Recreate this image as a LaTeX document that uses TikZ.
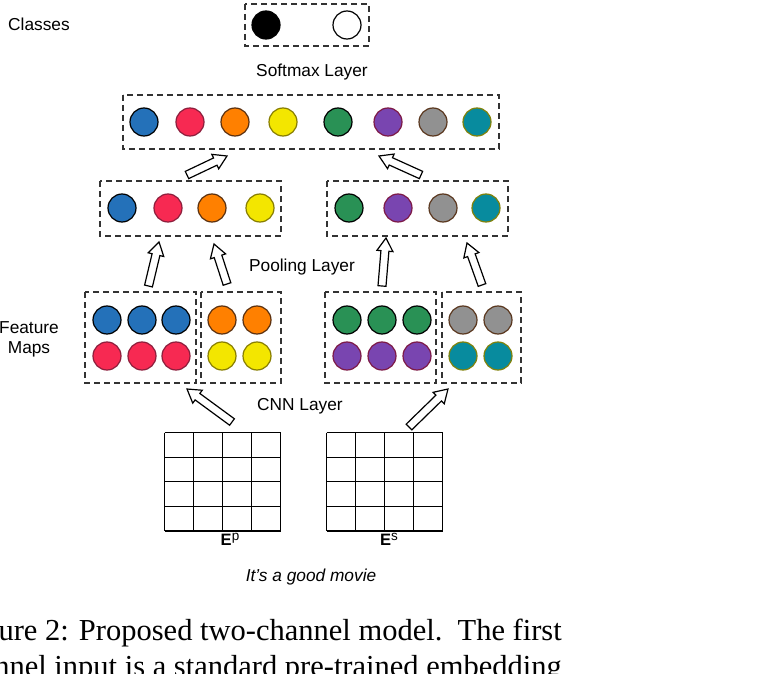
\documentclass[tikz,border=0pt]{standalone}
\usepackage{fontspec}
\setmainfont{Liberation Sans}
\newfontfamily\capfont{Liberation Serif}
\usetikzlibrary{calc}
\definecolor{cblue}{RGB}{36,113,185}
\definecolor{cred}{RGB}{247,41,82}
\definecolor{corange}{RGB}{255,128,0}
\definecolor{cyellow}{RGB}{243,230,0}
\definecolor{cgreen}{RGB}{41,145,85}
\definecolor{cpurple}{RGB}{121,69,176}
\definecolor{cgray}{RGB}{145,145,145}
\definecolor{cteal}{RGB}{8,139,158}
\definecolor{bred}{RGB}{140,30,60}
\definecolor{borange}{RGB}{90,48,16}
\definecolor{byellow}{RGB}{135,125,0}
\definecolor{bpurple}{RGB}{125,25,70}
\definecolor{bgray}{RGB}{90,55,30}
\definecolor{bteal}{RGB}{130,130,10}
\tikzset{
  dot/.style={circle, minimum size=28pt, inner sep=0pt, line width=1.2pt},
  cb/.style={dot, fill=cblue, draw=black},
  cr/.style={dot, fill=cred, draw=bred},
  co/.style={dot, fill=corange, draw=borange},
  cy/.style={dot, fill=cyellow, draw=byellow},
  cg/.style={dot, fill=cgreen, draw=black},
  cp/.style={dot, fill=cpurple, draw=bpurple},
  cgr/.style={dot, fill=cgray, draw=bgray},
  ct/.style={dot, fill=cteal, draw=bteal},
  dbox/.style={draw=black!80, dash pattern=on 6pt off 4pt, line width=1.3pt},
  lbl/.style={font=\fontsize{17.3}{20}\selectfont, inner sep=0pt, anchor=base},
  elbl/.style={font=\fontsize{16.5}{18}\selectfont, inner sep=0pt, anchor=base},
  fat/.style={draw=black, fill=white, line width=1.2pt, line join=miter},
  gridln/.style={line width=1.6pt, draw=black},
  captxt/.style={anchor=base east, inner sep=0pt, font=\capfont\fontsize{30.5}{36}\selectfont},
}
\newcommand{\fatarr}[2]{%
  \coordinate (fh) at ($(#2)!13pt!(#1)$);
  \draw[fat] ($(#1)!4pt!90:(#2)$) -- ($(fh)!4pt!90:(#2)$) -- ($(fh)!8pt!90:(#2)$) -- (#2)
    -- ($(fh)!8pt!-90:(#2)$) -- ($(fh)!4pt!-90:(#2)$) -- ($(#1)!4pt!-90:(#2)$) -- cycle;}
\newcommand{\embl}[1]{\textbf{E}\raisebox{5pt}{\fontsize{13.5}{15}\selectfont #1}}
\begin{document}
\begin{tikzpicture}[x=1pt,y=-1pt]
\useasboundingbox (0,0) rectangle (758,674);
\clip (0,0) rectangle (758,674);
\fill[white] (0,0) rectangle (758,674);

% Classes
\node[lbl] (classes) at (39,31) {Classes};
\draw[dbox] (245,4) rectangle (369,46);
\node[dot, fill=black, draw=black] (k1) at (266,25) {};
\node[dot, fill=white, draw=black] (k2) at (347,25) {};

% Softmax layer
\node[lbl] (softlbl) at (312,77) {Softmax Layer};
\draw[dbox] (123,95) rectangle (499,149);
\node[cb] (s1) at (144,122) {};
\node[cr] (s2) at (190,122) {};
\node[co] (s3) at (235,122) {};
\node[cy] (s4) at (283,122) {};
\node[cg] (s5) at (338,122) {};
\node[cp] (s6) at (388,122) {};
\node[cgr] (s7) at (433,122) {};
\node[ct] (s8) at (477,122) {};

% Pooling outputs
\draw[dbox] (100,181) rectangle (281,236);
\node[cb] (p1) at (122,208) {};
\node[cr] (p2) at (168,208) {};
\node[co] (p3) at (212,208) {};
\node[cy] (p4) at (260,208) {};
\draw[dbox] (327,181) rectangle (508,236);
\node[cg] (p5) at (349,208) {};
\node[cp] (p6) at (398,208) {};
\node[cgr] (p7) at (443,208) {};
\node[ct] (p8) at (486,208) {};
\node[lbl] (poollbl) at (302,271) {Pooling Layer};

% Feature maps
\node[lbl] (fm1) at (29,333) {Feature};
\node[lbl] (fm2) at (29,353) {Maps};
\draw[dbox] (85,292) rectangle (196,383);
\node[cb] (f1) at (107,320) {};
\node[cb] (f2) at (142,320) {};
\node[cb] (f3) at (176,320) {};
\node[cr] (f4) at (107,356) {};
\node[cr] (f5) at (142,356) {};
\node[cr] (f6) at (176,356) {};
\draw[dbox] (201,292) rectangle (281,383);
\node[co] (f7) at (222,320) {};
\node[co] (f8) at (257,320) {};
\node[cy] (f9) at (222,356) {};
\node[cy] (f10) at (257,356) {};
\draw[dbox] (325,292) rectangle (436,383);
\node[cg] (g1) at (347,320) {};
\node[cg] (g2) at (382,320) {};
\node[cg] (g3) at (417,320) {};
\node[cp] (g4) at (347,356) {};
\node[cp] (g5) at (382,356) {};
\node[cp] (g6) at (417,356) {};
\draw[dbox] (442,292) rectangle (521,383);
\node[cgr] (g7) at (463,320) {};
\node[cgr] (g8) at (498,320) {};
\node[ct] (g9) at (463,356) {};
\node[ct] (g10) at (498,356) {};
\node[lbl] (cnnlbl) at (300,410) {CNN Layer};

% Embedding grids
\foreach \x in {164.5,193.5,222.5,251.5,280.5} \draw[gridln] (\x,432.5) -- (\x,531);
\foreach \y in {432.5,457.5,481.5,506.5,531} \draw[gridln] (164.5,\y) -- (280.5,\y);
\foreach \x in {326.5,355.5,384.5,413.5,442.5} \draw[gridln] (\x,432.5) -- (\x,531);
\foreach \y in {432.5,457.5,481.5,506.5,531} \draw[gridln] (326.5,\y) -- (442.5,\y);
\node[elbl] (ep) at (230,545) {\embl{p}};
\node[elbl] (es) at (389,545) {\embl{s}};
\node[lbl] (sent) at (311,581) {\itshape It’s a good movie};

% Fat arrows
\coordinate (a1t) at (187,175); \coordinate (a1h) at (227,156);
\coordinate (a2t) at (421,175); \coordinate (a2h) at (379,156);
\coordinate (b1t) at (148.5,286); \coordinate (b1h) at (159,242);
\coordinate (b2t) at (227,284); \coordinate (b2h) at (214,244);
\coordinate (b3t) at (382,286); \coordinate (b3h) at (386,238);
\coordinate (b4t) at (482,285); \coordinate (b4h) at (467,243);
\coordinate (c1t) at (232,422); \coordinate (c1h) at (187,389);
\coordinate (c2t) at (409,427); \coordinate (c2h) at (448,389);
\fatarr{a1t}{a1h}
\fatarr{a2t}{a2h}
\fatarr{b1t}{b1h}
\fatarr{b2t}{b2h}
\fatarr{b3t}{b3h}
\fatarr{b4t}{b4h}
\fatarr{c1t}{c1h}
\fatarr{c2t}{c2h}

% Caption (cropped by the picture's edges)
\node[captxt] (cap1) at (562,640) {Figure 2: Proposed two-channel model.\ \ The first};
\node[captxt] (cap2) at (562,676) {channel input is a standard pre-trained embedding};
\end{tikzpicture}
\end{document}
